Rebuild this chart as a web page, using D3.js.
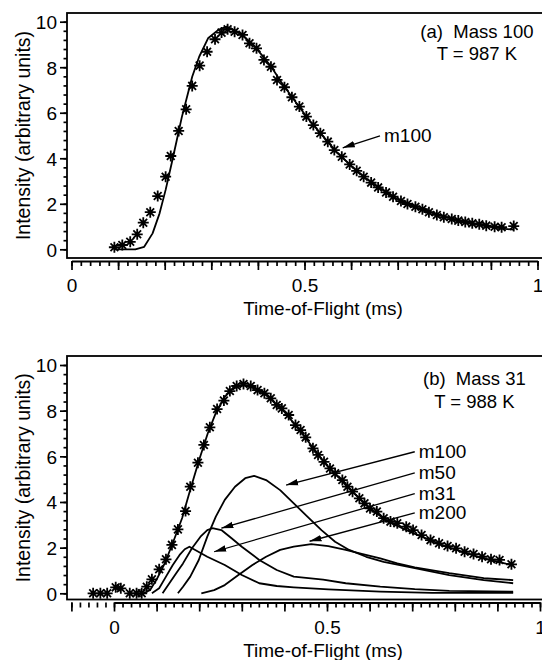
<!DOCTYPE html>
<html>
<head>
<meta charset="utf-8">
<script src="https://cdn.jsdelivr.net/npm/d3@7"></script>
<style>
  body { margin: 0; background: #fff; }
  text { font-family: "Liberation Sans", Arial, sans-serif; fill: #000; }
</style>
</head>
<body>
<div id="chart"></div>
<script>
const width = 542, height = 660;

/* ---- panel (a): mass 100, T = 987 K ---- */
const aStarT = [0.092,0.109,0.126,0.141,0.154,0.169,0.185,0.202,0.213,0.230,0.246,0.259,0.275,0.291,0.308,0.322,0.335,0.350,0.367,0.382,0.397,0.413,0.428,0.441,0.457,0.473,0.489,0.504,0.519,0.534,0.550,0.564,0.580,0.597,0.612,0.627,0.643,0.658,0.675,0.690,0.707,0.721,0.738,0.753,0.767,0.784,0.799,0.816,0.830,0.845,0.860,0.875,0.890,0.908,0.923,0.949];
const aStarV = [0.09,0.19,0.33,0.66,1.17,1.63,2.34,3.19,4.10,5.20,6.15,7.18,8.07,8.68,9.23,9.52,9.67,9.56,9.42,9.05,8.83,8.32,8.02,7.44,7.12,6.68,6.27,5.83,5.46,5.10,4.73,4.36,4.07,3.73,3.45,3.19,2.93,2.72,2.50,2.31,2.12,1.99,1.87,1.76,1.63,1.51,1.41,1.33,1.26,1.20,1.14,1.10,1.04,0.99,0.97,1.02];
const aFitT = [0.092,0.137,0.156,0.174,0.189,0.202,0.215,0.226,0.237,0.248,0.259,0.274,0.293,0.315,0.333,0.35,0.37,0.39,0.41,0.43,0.45,0.47,0.49,0.51,0.53,0.55,0.57,0.59,0.61,0.63,0.65,0.67,0.69,0.71,0.73,0.75,0.77,0.79,0.81,0.83,0.85,0.87,0.89,0.91,0.93,0.949];
const aFitV = [0,0,0.11,0.70,1.58,2.61,3.78,4.80,5.83,6.70,7.58,8.46,9.27,9.64,9.78,9.62,9.35,8.98,8.5,7.98,7.35,6.78,6.22,5.68,5.2,4.72,4.25,3.86,3.48,3.15,2.85,2.58,2.32,2.08,1.92,1.76,1.62,1.5,1.38,1.28,1.18,1.1,1.02,0.95,0.9,0.86];

/* ---- panel (b): mass 31, T = 988 K ---- */
const bStarT = [-0.049,-0.032,-0.016,0.004,0.016,0.037,0.053,0.065,0.077,0.089,0.106,0.122,0.136,0.150,0.168,0.179,0.197,0.211,0.225,0.242,0.258,0.272,0.288,0.304,0.321,0.337,0.353,0.368,0.382,0.394,0.410,0.426,0.438,0.450,0.467,0.479,0.493,0.507,0.519,0.536,0.548,0.560,0.576,0.588,0.601,0.617,0.633,0.649,0.665,0.686,0.702,0.722,0.743,0.763,0.783,0.803,0.823,0.844,0.864,0.885,0.905,0.933];
const bStarV = [0,0,0,0.26,0.22,0,0,0,0.29,0.61,1.05,1.49,2.12,2.80,3.60,4.67,5.72,6.50,7.27,8.07,8.44,8.86,9.08,9.17,9.08,8.90,8.76,8.54,8.25,8.10,7.81,7.37,7.15,6.83,6.35,6.06,5.76,5.47,5.26,4.96,4.67,4.45,4.16,3.94,3.72,3.58,3.29,3.14,3.07,2.92,2.77,2.55,2.33,2.19,2.07,1.97,1.82,1.72,1.60,1.49,1.46,1.27];
const bTotalT = [0.07,0.085,0.1,0.12,0.14,0.16,0.18,0.2,0.22,0.24,0.26,0.28,0.30,0.32,0.34,0.36,0.38,0.40,0.42,0.44,0.46,0.48,0.50,0.52,0.54,0.56,0.58,0.60,0.62,0.64,0.66,0.68,0.70,0.72,0.74,0.76,0.78,0.80,0.82,0.84,0.86,0.88,0.90,0.92,0.937];
const bTotalV = [0,0.15,0.6,1.35,2.3,3.3,4.6,5.85,7.0,7.95,8.6,8.98,9.12,9.08,8.9,8.65,8.3,7.95,7.5,7.05,6.55,6.05,5.6,5.2,4.85,4.45,4.08,3.75,3.45,3.2,3.0,2.82,2.65,2.5,2.35,2.2,2.05,1.92,1.8,1.68,1.57,1.47,1.38,1.3,1.25];

const m100T = [0.150,0.162,0.179,0.199,0.219,0.239,0.260,0.284,0.308,0.329,0.357,0.390,0.422,0.454,0.487,0.519,0.552,0.592,0.633,0.706,0.787,0.868,0.937];
const m100V = [0,0.29,0.73,1.46,2.48,3.36,4.09,4.67,5.04,5.14,4.96,4.52,3.94,3.36,2.77,2.26,1.90,1.60,1.38,1.10,0.80,0.58,0.44];
const m50T = [0.114,0.130,0.146,0.162,0.183,0.203,0.219,0.231,0.252,0.276,0.300,0.341,0.382,0.422,0.491,0.544,0.625,0.706,0.787,0.937];
const m50V = [0,0.44,0.88,1.31,1.97,2.48,2.77,2.85,2.77,2.41,2.04,1.46,1.02,0.73,0.60,0.44,0.29,0.18,0.11,0.07];
const m31T = [0.089,0.106,0.122,0.138,0.154,0.166,0.177,0.219,0.260,0.300,0.341,0.382,0.422,0.503,0.625,0.747,0.937];
const m31V = [0,0.22,0.73,1.24,1.68,1.93,2.04,1.60,1.24,0.80,0.44,0.32,0.26,0.17,0.07,0.02,0.02];
const m200T = [0.205,0.235,0.260,0.292,0.325,0.357,0.390,0.422,0.463,0.503,0.544,0.584,0.625,0.665,0.706,0.787,0.868,0.937];
const m200V = [0,0.14,0.36,0.80,1.24,1.60,1.90,2.04,2.15,2.07,1.90,1.72,1.53,1.31,1.14,0.88,0.66,0.58];

const yTicks = [0, 2, 4, 6, 8, 10];
const yMinor = d3.range(0, 10.01, 0.4);
const xLabelled = [0, 0.5, 1];

// annotation arrows: label position and arrow tip, in data units
const aArrows = [{ name: "m100", t0: 0.662, v0: 4.98, t1: 0.582, v1: 4.46 }];
const bArrows = [
  { name: "m100", t0: 0.706, v0: 6.2, t1: 0.404, v1: 4.74 },
  { name: "m50", t0: 0.706, v0: 5.28, t1: 0.252, v1: 2.85 },
  { name: "m31", t0: 0.706, v0: 4.37, t1: 0.235, v1: 1.82 },
  { name: "m200", t0: 0.706, v0: 3.52, t1: 0.459, v1: 2.28 }
];

const svg = d3.select("#chart").append("svg")
  .attr("width", width)
  .attr("height", height);

svg.append("defs").append("marker")
  .attr("id", "head")
  .attr("viewBox", "0 0 12 8")
  .attr("refX", 12).attr("refY", 4)
  .attr("markerWidth", 12).attr("markerHeight", 8)
  .attr("markerUnits", "userSpaceOnUse")
  .attr("orient", "auto")
  .append("path").attr("d", "M0,0.8 L12,4 L0,7.2 Z").attr("fill", "#000");

const star = r => {
  const d = r * 0.7071;
  return `M${-r},0L${r},0M0,${-r}L0,${r}M${-d},${-d}L${d},${d}M${-d},${d}L${d},${-d}`;
};

function panel(p) {
  const x = d3.scaleLinear().domain([0, 1]).range(p.xr);
  const y = d3.scaleLinear().domain([0, 10]).range(p.yr);
  const g = svg.append("g");

  // frame
  g.append("rect")
    .attr("x", p.box[0]).attr("y", p.box[1])
    .attr("width", 600).attr("height", p.box[2] - p.box[1])
    .attr("fill", "none").attr("stroke", "#000").attr("stroke-width", 1.8);

  // y axis (ticks on the left side of the frame)
  const yMin = g.append("g").attr("transform", `translate(${p.box[0]},0)`)
    .call(d3.axisLeft(y).tickValues(yMinor).tickSize(3.5).tickFormat(""));
  const yMaj = g.append("g").attr("transform", `translate(${p.box[0]},0)`)
    .call(d3.axisLeft(y).tickValues(yTicks).tickSize(7).tickPadding(3));
  [yMin, yMaj].forEach(a => a.select(".domain").remove());
  yMaj.selectAll("text").style("font-size", "19px").attr("dy", "0.36em");

  // x axis, offset a little below the frame
  const xd = d3.range(p.xStart, 1.001, 0.02).map(v => +v.toFixed(2));
  const xM = d3.range(p.xStart, 1.001, 0.1).map(v => +v.toFixed(2));
  const xMin = g.append("g").attr("transform", `translate(0,${p.axisY})`)
    .call(d3.axisBottom(x).tickValues(xd).tickSize(5).tickSizeOuter(0).tickFormat(""));
  const xMaj = g.append("g").attr("transform", `translate(0,${p.axisY})`)
    .call(d3.axisBottom(x).tickValues(xM).tickSize(9).tickSizeOuter(0).tickPadding(9)
      .tickFormat(d => xLabelled.includes(d) ? d3.format("")(d) : ""));
  xMaj.select(".domain").remove();
  xMin.select(".domain").attr("stroke-width", 1.8);
  xMaj.selectAll("text").style("font-size", "19px");
  g.selectAll(".tick line").attr("stroke-width", 1.7);

  // titles
  g.append("text")
    .attr("x", 323).attr("y", p.xTitleY)
    .attr("text-anchor", "middle").attr("dominant-baseline", "central")
    .style("font-size", "19px").text("Time-of-Flight (ms)");
  g.append("text")
    .attr("transform", `translate(23,${(p.box[1] + p.box[2]) / 2}) rotate(-90)`)
    .attr("text-anchor", "middle").attr("dominant-baseline", "central")
    .style("font-size", "19.5px").text("Intensity (arbitrary units)");

  // curves
  const line = d3.line().x(d => x(d[0])).y(d => y(d[1]));
  p.lines.forEach(([ts, vs]) => {
    g.append("path")
      .datum(ts.map((t, i) => [t, vs[i]]))
      .attr("d", line)
      .attr("fill", "none").attr("stroke", "#000").attr("stroke-width", 1.8)
      .attr("stroke-linejoin", "round");
  });

  // data points
  g.selectAll(".pt")
    .data(p.starT.map((t, i) => [t, p.starV[i]]))
    .join("path")
    .attr("class", "pt")
    .attr("transform", d => `translate(${x(d[0])},${y(d[1])})`)
    .attr("d", star(5.5))
    .attr("fill", "none").attr("stroke", "#000").attr("stroke-width", 1.8);

  // arrows and labels
  p.arrows.forEach(a => {
    g.append("line")
      .attr("x1", x(a.t0)).attr("y1", y(a.v0))
      .attr("x2", x(a.t1)).attr("y2", y(a.v1))
      .attr("stroke", "#000").attr("stroke-width", 1.3)
      .attr("marker-end", "url(#head)");
    g.append("text")
      .attr("x", x(a.t0) + 4).attr("y", y(a.v0))
      .attr("dominant-baseline", "central")
      .style("font-size", "19px").text(a.name);
  });

  // panel caption
  p.caption.forEach((c, i) => {
    g.append("text")
      .attr("x", x(p.capT)).attr("y", y(p.capV[i]))
      .attr("text-anchor", "middle").attr("dominant-baseline", "central")
      .style("font-size", "18.5px").style("white-space", "pre").text(c);
  });
}

panel({
  xr: [71.5, 537.5], yr: [249.3, 21.7], box: [67, 13, 258], axisY: 261, xStart: 0,
  xTitleY: 308,
  starT: aStarT, starV: aStarV,
  lines: [[aFitT, aFitV]],
  arrows: aArrows,
  caption: ["(a)  Mass 100", "T = 987 K"], capT: 0.87, capV: [9.55, 8.62]
});

panel({
  xr: [114, 540], yr: [593.3, 365], box: [67, 356, 599.5], axisY: 602.5, xStart: -0.1,
  xTitleY: 650,
  starT: bStarT, starV: bStarV,
  lines: [[bTotalT, bTotalV], [m100T, m100V], [m50T, m50V], [m31T, m31V], [m200T, m200V]],
  arrows: bArrows,
  caption: ["(b)  Mass 31", "T = 988 K"], capT: 0.846, capV: [9.39, 8.42]
});
</script>
</body>
</html>
